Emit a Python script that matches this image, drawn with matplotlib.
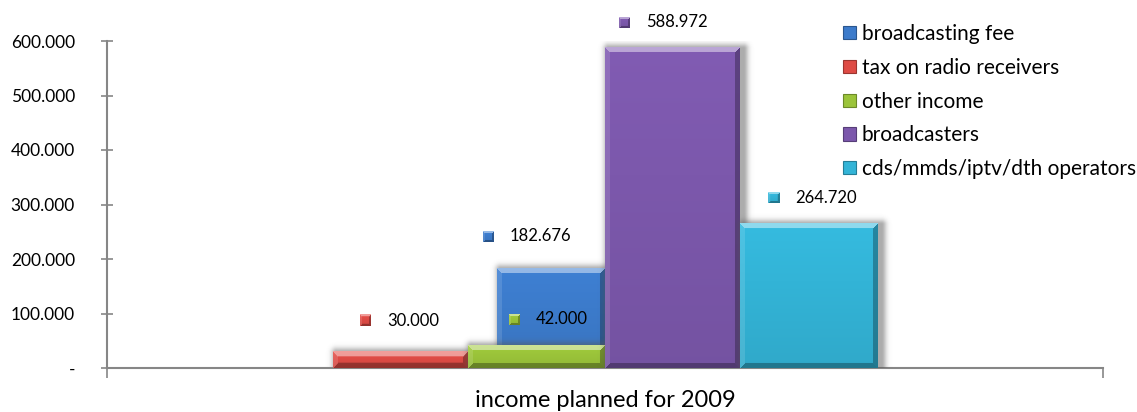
import numpy as np
import matplotlib.pyplot as plt
from matplotlib.colors import to_rgb
from matplotlib.patches import Rectangle
from matplotlib.ticker import FuncFormatter

# income planned for 2009 (thousands, "." as group separator)
series = ['broadcasting fee', 'tax on radio receivers', 'other income',
          'broadcasters', 'cds/mmds/iptv/dth operators']
values = [182676, 30000, 42000, 588972, 264720]
category = 'income planned for 2009'
yticks = [0, 100000, 200000, 300000, 400000, 500000, 600000]

colors = ['#3C7BCB', '#DE4B45', '#9BC43A', '#7C58AC', '#33B4D7']

# bar layout along the single category (x runs 0..1)
bar_left = [0.3916, 0.227, 0.3625, 0.5, 0.6355]
bar_width = [0.1084, 0.1355, 0.1375, 0.1355, 0.1385]
label_x = [0.3775, 0.254, 0.4036, 0.514, 0.6637]   # left edge of label key
label_rise = [32, 31, 26, 25, 26]                   # pixels above bar top

FONT = 'Lato'
plt.rcParams['font.family'] = [FONT, 'DejaVu Sans']
TEXT = '#000000'

W, H, DPI = 1137, 412, 100
fig = plt.figure(figsize=(W / DPI, H / DPI), dpi=DPI)
ax = fig.add_axes([107 / W, 1 - 368 / H, (1103 - 107) / W, (368 - 41) / H])
ax.set_xlim(0, 1)
ax.set_ylim(0, 600000)


def fmt(v, pos=None):
    if v == 0:
        return '-'
    return f'{int(round(v)):,}'.replace(',', '.')


def to_px(x, y):
    return ax.transData.transform((x, y))


def to_data(px, py):
    return ax.transData.inverted().transform((px, py))


def bevel_image(color, w, h, bevel=5):
    base = np.array(to_rgb(color))
    w, h = max(int(round(w)), 2), max(int(round(h)), 2)
    yy, xx = np.mgrid[0:h, 0:w].astype(float)
    shade = 1.04 - 0.10 * yy / (h - 1)
    img = base[None, None, :] * shade[..., None]
    dt, db, dl, dr = yy, h - 1 - yy, xx, w - 1 - xx
    dmin = np.minimum(np.minimum(dt, db), np.minimum(dl, dr))
    b = min(bevel, w / 3, h / 3)
    edge = dmin < b
    top = edge & (dt == dmin)
    left = edge & (dl == dmin) & ~top
    right = edge & (dr == dmin) & ~top & ~left
    bottom = edge & ~top & ~left & ~right
    white, black = np.ones(3), np.zeros(3)
    img[top] = img[top] * 0.55 + white * 0.45
    img[left] = img[left] * 0.88 + white * 0.12
    img[right] = img[right] * 0.72 + black * 0.28
    img[bottom] = img[bottom] * 0.70 + black * 0.30
    return np.clip(img, 0, 1)


def shadow_image(w, h, margin=12, soft=5.0):
    w, h = int(round(w)), int(round(h))
    yy, xx = np.mgrid[0:h + 2 * margin, 0:w + 2 * margin].astype(float)
    dx = np.maximum(0, np.abs(xx - (w + 2 * margin) / 2) - w / 2)
    dy = np.maximum(0, np.abs(yy - (h + 2 * margin) / 2) - h / 2)
    d = np.hypot(dx, dy)
    alpha = 0.5 * np.exp(-(d / soft) ** 2)
    img = np.zeros((h + 2 * margin, w + 2 * margin, 4))
    img[..., :3] = 0.35
    img[..., 3] = alpha
    return img


# bars: soft shadow, then bevelled gradient face
for i, (left, width, val, col) in enumerate(zip(bar_left, bar_width, values, colors)):
    z = 2 + i
    x0, y0 = to_px(left, 0)
    x1, y1 = to_px(left + width, val)
    m = 12
    sh = shadow_image(x1 - x0, y1 - y0, margin=m)
    sx0, sy0 = to_data(x0 - m + 3, y0 - m)
    sx1, sy1 = to_data(x1 + m + 3, y1 + m - 1)
    ax.imshow(sh, extent=(sx0, sx1, sy0, sy1), aspect='auto',
              interpolation='bilinear', zorder=z - 0.5)
    face = bevel_image(col, x1 - x0, y1 - y0)
    ax.imshow(face, extent=(left, left + width, 0, val), aspect='auto',
              interpolation='bilinear', zorder=z)

# data labels with small series keys
for lx, rise, val, col in zip(label_x, label_rise, values, colors):
    kx, ky = to_px(lx, val)
    ky += rise
    k = 11
    ka = to_data(kx, ky - k / 2)
    kb = to_data(kx + k, ky + k / 2)
    key = bevel_image(col, k, k, bevel=2)
    ax.imshow(key, extent=(ka[0], kb[0], ka[1], kb[1]), aspect='auto',
              interpolation='bilinear', zorder=20, clip_on=False)
    tx, ty = to_data(kx + k + 16, ky)
    ax.text(tx, ty, fmt(val), ha='left', va='center', fontsize=12,
            color=TEXT, zorder=21, clip_on=False)

ax.set_xlim(0, 1)
ax.set_ylim(0, 600000)

axis_col = '#868686'
for s in ['top', 'right']:
    ax.spines[s].set_visible(False)
for s in ['left', 'bottom']:
    ax.spines[s].set_color(axis_col)
    ax.spines[s].set_linewidth(1.5)

ax.set_yticks(yticks)
ax.yaxis.set_major_formatter(FuncFormatter(fmt))
ax.tick_params(axis='y', direction='inout', length=9, width=1.2,
               color=axis_col, labelsize=12.5, pad=18.5, labelcolor=TEXT)
ax.set_xticks([0, 1])
ax.set_xticklabels(['', ''])
ax.tick_params(axis='x', direction='out', length=7, width=1.2, color=axis_col)

ax.text(0.5, -0.098, category, transform=ax.transAxes, ha='center',
        va='center', fontsize=17, color=TEXT)

handles = [Rectangle((0, 0), 1, 1, facecolor=c, edgecolor=np.array(to_rgb(c)) * 0.7,
                     linewidth=0.8) for c in colors]
fig.legend(handles, series, loc='upper left',
           bbox_to_anchor=(843 / W, 1 - 24 / H), frameon=False,
           fontsize=15, handlelength=0.6, handleheight=0.6,
           handletextpad=0.3, labelspacing=0.66, borderpad=0,
           borderaxespad=0)

fig.savefig('out.png', dpi=DPI)
